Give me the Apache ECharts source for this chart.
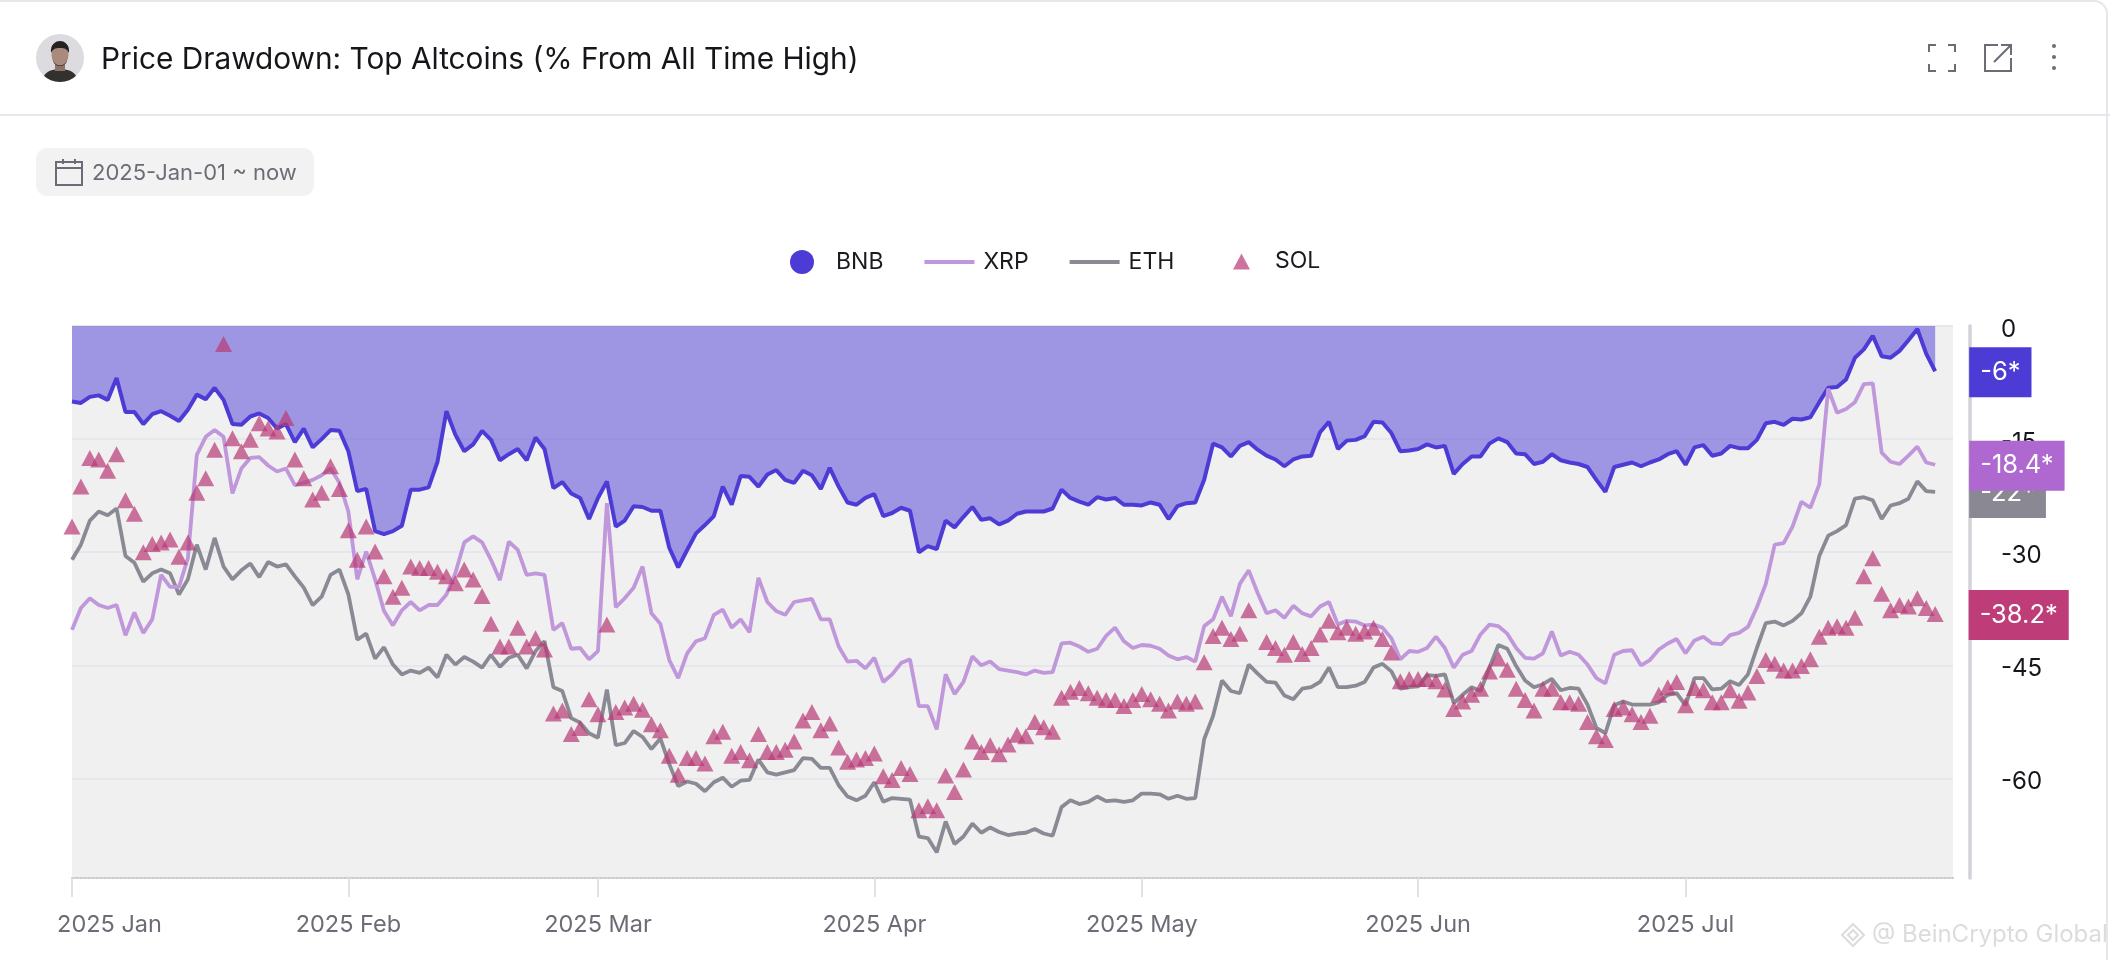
<!DOCTYPE html>
<html>
<head>
<meta charset="utf-8">
<title>Price Drawdown: Top Altcoins</title>
<script src="https://cdn.jsdelivr.net/npm/echarts@6/dist/echarts.min.js"></script>
<style>
  html, body { margin: 0; padding: 0; background: #fff; font-family: Inter, sans-serif; }
  #page { position: relative; width: 2114px; height: 962px; overflow: hidden; }
  #chart { position: absolute; left: 0; top: 0; width: 2114px; height: 962px; }
  .card { position: absolute; left: -6px; top: 0; width: 2114px; height: 960px; border: 2px solid #e6e6ec; border-radius: 0 14px 0 0; box-sizing: border-box; border-bottom: 0; }
  .divider { position: absolute; left: 0; top: 114px; width: 2110px; height: 2px; background: #e6e6ec; }
  .avatar { position: absolute; left: 36px; top: 34px; width: 48px; height: 48px; }
  .title { position: absolute; left: 101px; top: 38px; font-size: 29.8px; line-height: 40px; color: #16161a; white-space: nowrap; }
  .pill { position: absolute; left: 36px; top: 148px; width: 278px; height: 48px; background: #f2f2f3; border-radius: 11px; }
  .pill svg { position: absolute; left: 18px; top: 10px; }
  .pill span { position: absolute; left: 56px; top: 9px; font-size: 22px; line-height: 30px; color: #6c6c76; white-space: nowrap; }
  .icon { position: absolute; }
  .mark { position: absolute; left: 1840px; top: 918px; font-size: 24px; line-height: 32px; color: #dcdcdc; white-space: nowrap; }
  .mark svg { vertical-align: -6px; margin-right: 6px; }
</style>
</head>
<body>
<div id="page">
  <div id="chart"></div>
  <div class="card"></div>
  <div class="divider"></div>
  <svg class="avatar" viewBox="0 0 48 48">
    <defs><clipPath id="round"><circle cx="24" cy="24" r="24"/></clipPath></defs>
    <g clip-path="url(#round)">
      <rect width="48" height="48" fill="#dcdce0"/>
      <path d="M6 48c1-10 9-13 18-13s17 3 18 13z" fill="#33312f"/>
      <rect x="19" y="28" width="10" height="9" fill="#8f7266"/>
      <ellipse cx="24" cy="21" rx="8.5" ry="11" fill="#a98a7c"/>
      <path d="M15 19c-1-9 5-12 9-12s10 3 9 12c-2-4-4-5-9-5s-7 1-9 5z" fill="#25211f"/>
      <path d="M17 26c2 7 12 7 14 0-1 8-13 8-14 0z" fill="#3c3230"/>
    </g>
  </svg>
  <div class="title">Price Drawdown: Top Altcoins (% From All Time High)</div>
  <div class="pill">
    <svg width="30" height="28" viewBox="0 0 30 28" fill="none" stroke="#6c6c76" stroke-width="2">
      <rect x="2" y="4" width="26" height="23"/><path d="M2 10h26M9 1v5M21 1v5"/>
    </svg>
    <span>2025-Jan-01 ~ now</span>
  </div>
  <svg class="icon" style="left:1928px;top:44px" width="28" height="28" viewBox="0 0 28 28" fill="none" stroke="#6c6c76" stroke-width="2">
    <path d="M1 8V1h7M20 1h7v7M27 20v7h-7M8 27H1v-7"/>
  </svg>
  <svg class="icon" style="left:1984px;top:44px" width="28" height="28" viewBox="0 0 28 28" fill="none" stroke="#6c6c76" stroke-width="2">
    <path d="M14 1H1v26h26V14M10 18L27 1M17 1h10v10"/>
  </svg>
  <svg class="icon" style="left:2050px;top:42px" width="8" height="32" viewBox="0 0 8 32" fill="#6c6c76">
    <circle cx="4" cy="4" r="2"/><circle cx="4" cy="15" r="2"/><circle cx="4" cy="26" r="2"/>
  </svg>
  <div class="mark">
    <svg width="26" height="26" viewBox="0 0 26 26" fill="none" stroke="#dcdcdc" stroke-width="2"><path d="M13 2l11 11-11 11L2 13zM13 8l5 5-5 5-5-5z"/></svg>@ BeinCrypto Global
  </div>
</div>
<script>
var seriesNames = ['BNB', 'XRP', 'ETH', 'SOL'];
var yTicks = [0, -15, -30, -45, -60];

var bnbValues = [
  -10.0,-10.2,-9.4,-9.2,-9.8,-6.9,-11.4,-11.4,-13.0,-11.7,
  -11.3,-11.9,-12.6,-11.1,-9.1,-9.7,-8.2,-9.8,-13.0,-13.1,
  -12.0,-11.6,-12.2,-13.6,-13.0,-15.4,-13.6,-16.1,-15.0,-13.8,
  -13.9,-16.6,-21.9,-21.6,-27.2,-27.6,-27.2,-26.5,-21.7,-21.7,
  -21.4,-18.0,-11.3,-14.4,-16.6,-15.7,-13.9,-15.1,-17.8,-17.0,
  -16.3,-17.8,-14.8,-16.3,-21.5,-20.7,-22.2,-22.8,-25.6,-22.8,
  -20.6,-26.6,-25.8,-23.9,-24.0,-24.5,-24.5,-29.4,-32.0,-29.7,
  -27.5,-26.4,-25.2,-21.3,-23.7,-19.9,-20.0,-21.3,-19.7,-19.1,
  -20.4,-20.8,-19.2,-19.8,-21.6,-18.8,-21.3,-23.4,-23.7,-22.8,
  -22.3,-25.2,-24.8,-24.1,-24.5,-30.0,-29.2,-29.6,-25.8,-26.7,
  -25.3,-24.0,-25.7,-25.5,-26.3,-25.8,-24.9,-24.6,-24.6,-24.6,
  -24.2,-21.7,-22.8,-23.3,-23.7,-22.7,-23.0,-22.8,-23.7,-23.7,
  -23.8,-23.4,-23.7,-25.6,-23.9,-23.5,-23.4,-20.4,-15.6,-16.1,
  -17.3,-15.9,-15.4,-16.4,-17.2,-17.7,-18.6,-17.7,-17.3,-17.2,
  -14.1,-12.7,-16.3,-15.2,-15.1,-14.6,-12.7,-12.8,-14.2,-16.6,
  -16.5,-16.3,-15.7,-16.1,-15.9,-19.6,-18.3,-17.3,-17.3,-15.6,
  -14.9,-15.4,-16.9,-17.0,-18.3,-18.0,-17.0,-17.8,-18.1,-18.3,
  -18.7,-20.4,-22.0,-18.7,-18.4,-18.1,-18.6,-18.1,-17.7,-17.0,
  -16.6,-18.4,-16.1,-15.8,-17.2,-16.9,-15.9,-16.2,-16.2,-15.1,
  -12.9,-12.7,-13.1,-12.3,-12.4,-12.1,-10.1,-8.2,-8.1,-7.1,
  -4.2,-3.1,-1.3,-4.0,-4.2,-3.3,-1.9,-0.4,-3.7,-6
];
var xrpValues = [
  -40.3,-37.4,-36.1,-37.0,-37.4,-37.0,-41.0,-38.0,-40.7,-38.9,
  -33.0,-34.6,-34.6,-30.8,-17.1,-14.7,-13.8,-14.7,-22.2,-18.9,
  -17.5,-17.4,-18.5,-19.3,-18.9,-21.1,-20.8,-20.4,-19.8,-18.9,
  -20.8,-24.6,-33.6,-29.9,-33.6,-37.8,-39.7,-37.7,-36.6,-37.7,
  -37.0,-37.0,-35.6,-32.8,-28.7,-27.9,-28.7,-31.0,-33.7,-28.6,
  -29.7,-33.0,-32.8,-33.0,-40.3,-39.4,-42.8,-42.7,-44.2,-43.1,
  -23.5,-37.3,-36.1,-34.7,-31.9,-38.1,-39.5,-44.3,-46.7,-43.4,
  -41.8,-41.4,-38.3,-37.6,-40.0,-38.9,-40.6,-33.4,-36.6,-37.8,
  -38.3,-36.6,-36.4,-36.2,-38.9,-38.9,-42.5,-44.5,-44.4,-45.4,
  -44.0,-47.2,-46.2,-44.7,-44.2,-50.4,-50.4,-53.5,-46.2,-48.8,
  -47.2,-43.8,-45.0,-44.5,-45.5,-45.7,-45.9,-46.2,-45.7,-46.0,
  -45.9,-42.1,-42.0,-42.5,-43.2,-42.8,-41.1,-40.0,-41.8,-42.7,
  -42.3,-42.4,-42.8,-43.7,-44.2,-43.9,-44.5,-39.8,-38.9,-35.9,
  -38.5,-34.2,-32.4,-35.4,-38.1,-37.7,-38.7,-37.1,-38.1,-38.5,
  -37.2,-36.6,-39.6,-39.1,-39.2,-39.7,-39.6,-40.0,-41.4,-44.2,
  -43.1,-43.2,-42.7,-41.2,-42.7,-45.3,-43.6,-43.1,-40.9,-39.6,
  -39.8,-40.8,-42.7,-44.0,-44.1,-43.4,-40.5,-43.7,-43.2,-43.6,
  -44.9,-46.7,-47.4,-43.6,-43.1,-43.0,-45.0,-44.3,-42.9,-42.1,
  -41.5,-43.4,-41.7,-41.2,-42.1,-42.2,-41.0,-40.7,-39.9,-37.3,
  -34.2,-29.0,-28.8,-26.6,-23.3,-24.1,-21.0,-8.3,-11.5,-11.0,
  -10.1,-7.7,-7.6,-16.8,-18.0,-18.3,-17.2,-16.0,-18.1,-18.4
];
var ethValues = [
  -31.0,-29.0,-25.8,-24.6,-25.1,-24.2,-30.5,-31.4,-33.9,-32.8,
  -32.3,-32.8,-35.6,-33.6,-29.0,-32.3,-28.1,-31.9,-33.6,-32.4,
  -31.5,-33.3,-31.3,-31.9,-31.6,-33.2,-34.7,-37.0,-35.9,-33.0,
  -32.3,-35.6,-41.6,-40.8,-44.1,-42.6,-44.9,-46.2,-45.7,-46.0,
  -45.3,-46.6,-43.6,-44.9,-43.9,-44.5,-45.3,-43.6,-45.2,-44.0,
  -43.6,-45.4,-43.1,-41.8,-47.9,-48.4,-52.0,-52.6,-54.0,-54.6,
  -48.2,-55.6,-55.3,-53.7,-54.5,-56.1,-54.7,-58.1,-61.0,-60.4,
  -60.7,-61.7,-60.5,-59.9,-61.1,-60.3,-60.2,-57.5,-59.2,-59.5,
  -59.2,-58.9,-57.3,-57.4,-58.6,-58.6,-60.9,-62.4,-62.9,-62.3,
  -60.5,-63.1,-62.6,-62.7,-62.8,-67.7,-67.9,-69.8,-65.7,-68.7,
  -67.7,-66.0,-67.2,-66.5,-67.1,-67.5,-67.3,-67.2,-66.7,-67.3,
  -67.6,-63.8,-62.9,-63.4,-63.1,-62.4,-63.0,-62.9,-63.1,-62.9,
  -62.0,-62.0,-62.1,-62.7,-62.3,-62.7,-62.6,-54.8,-51.7,-47.0,
  -48.4,-48.7,-44.9,-46.1,-47.2,-47.3,-49.0,-49.5,-48.1,-47.9,
  -47.2,-45.3,-47.9,-47.9,-47.7,-47.2,-45.3,-44.8,-45.8,-48.1,
  -47.9,-47.8,-46.3,-46.4,-46.2,-50.0,-48.9,-47.9,-48.4,-45.3,
  -42.3,-42.8,-45.1,-47.0,-47.9,-47.5,-46.8,-48.3,-48.0,-48.1,
  -50.2,-53.3,-54.0,-50.3,-49.8,-50.2,-50.2,-50.2,-49.9,-48.9,
  -48.7,-50.3,-46.7,-46.7,-48.2,-48.1,-47.1,-47.6,-46.2,-42.7,
  -39.4,-39.2,-39.7,-39.1,-38.1,-35.9,-30.5,-27.8,-27.2,-26.4,
  -22.9,-22.7,-23.1,-25.6,-23.8,-23.5,-22.9,-20.6,-21.9,-22
];
var solValues = [
  -26.6,-21.3,-17.5,-17.7,-19.2,-17.0,-23.1,-24.9,-30.0,-28.9,
  -28.7,-28.3,-30.6,-28.7,-22.1,-20.2,-16.4,-2.4,-14.9,-16.6,
  -15.1,-12.9,-13.6,-14.0,-12.2,-17.7,-20.2,-23.0,-22.1,-18.6,
  -21.6,-27.1,-31.0,-26.6,-29.9,-33.2,-35.9,-34.7,-31.9,-32.1,
  -32.1,-32.6,-33.2,-34.1,-32.3,-33.6,-35.8,-39.5,-42.5,-42.5,
  -40.0,-42.5,-41.4,-42.9,-51.4,-51.0,-54.1,-53.3,-49.5,-51.5,
  -39.6,-51.2,-50.6,-50.1,-50.9,-52.8,-53.6,-57.0,-59.5,-57.3,
  -57.3,-58.0,-54.4,-53.8,-57.0,-56.5,-57.6,-54.1,-56.5,-56.5,
  -56.2,-55.1,-52.3,-51.2,-53.6,-52.7,-55.9,-57.8,-57.5,-57.3,
  -56.7,-59.7,-60.2,-58.6,-59.4,-64.2,-63.7,-64.2,-59.6,-61.8,
  -58.8,-55.1,-56.5,-55.6,-56.8,-55.5,-54.2,-54.4,-52.5,-53.2,
  -53.8,-49.3,-48.5,-48.0,-48.7,-49.3,-49.6,-49.6,-50.4,-49.6,
  -48.8,-49.5,-50.1,-51.0,-49.8,-50.1,-49.8,-44.6,-41.1,-40.0,
  -41.5,-40.8,-37.7,null,-41.9,-42.7,-43.6,-41.9,-43.5,-42.7,
  -40.9,-39.1,-40.6,-40.0,-40.8,-40.5,-40.0,-41.5,-43.3,-47.1,
  -46.8,-46.8,-46.8,-47.1,-48.2,-50.8,-49.8,-48.9,-48.1,-45.8,
  -44.1,-45.6,-48.1,-49.6,-51.0,-48.1,-48.1,-49.9,-49.9,-50.1,
  -52.5,-54.4,-54.9,-50.8,-50.6,-51.5,-52.5,-51.7,-48.9,-47.9,
  -47.2,-50.3,-48.0,-48.3,-49.9,-49.9,-48.3,-49.7,-48.6,-46.4,
  -44.3,-44.8,-45.7,-45.7,-45.1,-44.2,-41.2,-40.0,-39.8,-40.0,
  -38.7,-33.2,-30.8,-35.5,-37.7,-37.0,-37.2,-36.1,-37.4,-38.2
];

var MONTHS = ['Jan', 'Feb', 'Mar', 'Apr', 'May', 'Jun', 'Jul', 'Aug'];
var FONT = 'Inter, sans-serif';
var LINE_ICON = 'path://M0 0H50V4H0Z';

// one category per day, the axis runs on a little past the last data point
var days = [];
for (var d = 0; d < 212; d++) {
  days.push(new Date(Date.UTC(2025, 0, 1 + d)).toISOString().slice(0, 10));
}
function isMonthStart(index, value) {
  return value.slice(8) === '01';
}

function tagLabel(bg) {
  return {
    show: true,
    color: '#fff',
    fontFamily: FONT,
    fontSize: 25.5,
    lineHeight: 50,
    padding: [0, 11],
    offset: [0, 1],
    backgroundColor: bg
  };
}
function endLabel(bg) {
  return Object.assign(tagLabel(bg), {
    distance: 34,
    formatter: function (p) { return p.value + '*'; }
  });
}

var solData = solValues.map(function (v, i) {
  if (i !== solValues.length - 1) return v;
  return {
    value: v,
    label: Object.assign(tagLabel('#be3c78'), { position: 'right', distance: 25, formatter: v + '*' })
  };
});

var chart = echarts.init(document.getElementById('chart'));
chart.setOption({
  animation: false,
  textStyle: { fontFamily: FONT },
  legend: [
    {
      data: [
        { name: seriesNames[0], icon: 'circle' },
        { name: seriesNames[1], icon: LINE_ICON },
        { name: seriesNames[2], icon: LINE_ICON }
      ],
      left: 785, top: 245,
      itemWidth: 50, itemHeight: 24, itemGap: 41,
      textStyle: { color: '#1a1a1f', fontSize: 23, fontFamily: FONT, padding: [0, 0, 0, 4] },
      selectedMode: false
    },
    {
      data: [seriesNames[3]],
      left: 1228, top: 245,
      itemWidth: 17, itemHeight: 16,
      textStyle: { color: '#1a1a1f', fontSize: 23, fontFamily: FONT, padding: [0, 0, 0, 20] },
      selectedMode: false
    }
  ],
  grid: {
    left: 72, right: 161, top: 326, bottom: 84,
    show: true, backgroundColor: '#f0f0f0', borderWidth: 0
  },
  xAxis: {
    type: 'category',
    data: days,
    boundaryGap: false,
    axisLine: { onZero: false, lineStyle: { color: '#c9c9ce', width: 2, type: 'dotted' } },
    axisTick: { interval: isMonthStart, length: 19, lineStyle: { color: '#e0e0e5', width: 2 } },
    axisLabel: {
      interval: isMonthStart,
      margin: 35,
      color: '#6c6c76',
      fontSize: 23.5,
      fontFamily: FONT,
      hideOverlap: false,
      formatter: function (value, index) {
        var text = value.slice(0, 4) + ' ' + MONTHS[+value.slice(5, 7) - 1];
        // the first label is nudged right so it stays on the card
        return index === 0 ? '{first|' + text + '}' : text;
      },
      rich: { first: { padding: [0, 0, 0, 75], fontSize: 23.5, color: '#6c6c76', fontFamily: FONT } }
    },
    splitLine: { show: false }
  },
  yAxis: {
    type: 'value',
    position: 'right',
    offset: 17,
    min: -73.2,
    max: 0,
    axisLine: { show: true, lineStyle: { color: '#d2d2d8', width: 3.5 } },
    axisTick: { show: false, customValues: yTicks },
    splitLine: { show: true, lineStyle: { color: '#e6e6ec', width: 2 } },
    axisLabel: {
      customValues: yTicks,
      margin: 31,
      align: 'left',
      formatter: '{v|{value}}',
      // pushes the text a few pixels below its tick
      rich: { v: { padding: [7, 0, 0, 0], color: '#15151a', fontSize: 24, fontFamily: FONT } }
    }
  },
  series: [
    {
      name: 'BNB', type: 'line', data: bnbValues, symbol: 'none', z: 2,
      color: '#4d3bd6',
      lineStyle: { width: 4, color: '#4d3bd6' },
      areaStyle: { origin: 'end', color: 'rgba(77,59,214,0.5)', opacity: 1 },
      endLabel: endLabel('#4d3bd6')
    },
    {
      name: 'ETH', type: 'line', data: ethValues, symbol: 'none', z: 3,
      color: '#8a8a94',
      lineStyle: { width: 3.8, color: '#8a8a94' },
      endLabel: endLabel('#8a8893')
    },
    {
      name: 'XRP', type: 'line', data: xrpValues, symbol: 'none', z: 4,
      color: '#c097da',
      lineStyle: { width: 3.8, color: '#c097da' },
      endLabel: endLabel('#ae68d0')
    },
    {
      name: 'SOL', type: 'scatter', data: solData, z: 5,
      symbol: 'triangle', symbolSize: [17, 16],
      itemStyle: { color: 'rgba(184,57,117,0.7)', opacity: 1 }
    }
  ]
});
</script>
</body>
</html>
